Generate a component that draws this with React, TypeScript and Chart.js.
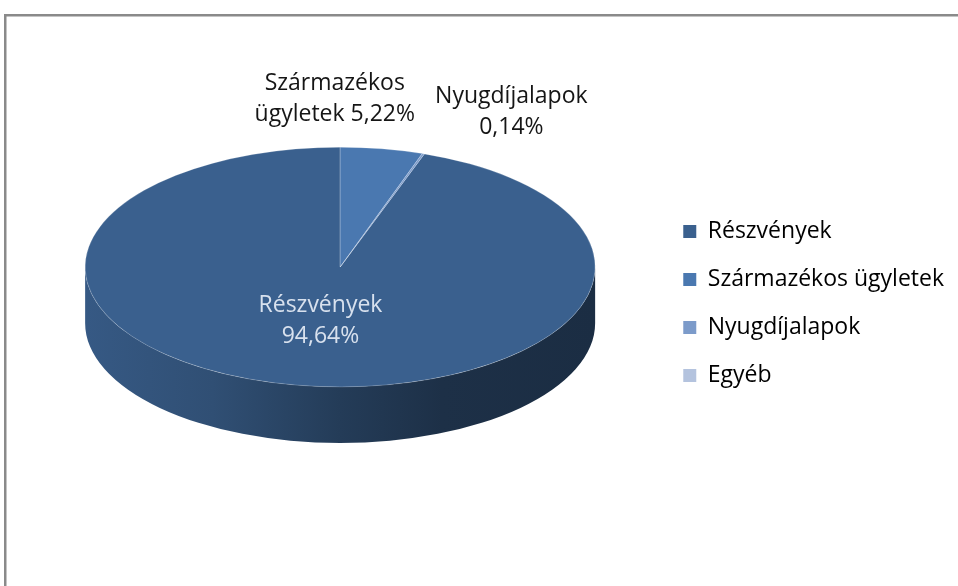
import { useEffect, useRef } from "react";
import { Chart, registerables } from "chart.js";

Chart.register(...registerables);

// ---- data ----
const categories = ["Részvények", "Származékos ügyletek", "Nyugdíjalapok", "Egyéb"];
const shares = [94.64, 5.22, 0.14, 0];
const sliceColors = ["#3A608E", "#4A78B0", "#7C9BCA", "#B4C3DE"];
// number of category words kept on the first line of each data label
const labelFirstLineWords = [1, 1, 1, 1];
const showDataLabel = [true, true, true, false];

// ---- style / layout ----
const FONT = "'Open Sans', 'Noto Sans', sans-serif";
const FONT_SIZE = 23;
const TILT = 0.47; // vertical squash of the top face
const DEPTH = 0.22; // side wall height relative to radius
const LIFT = 0.65; // how far the top face is lifted above the chart-area centre (in depths)
const LABEL_LINE = 31;
// label placement: inside labels use distance (fraction of radius), outside ones an offset from the rim point
const labelPlacement: Array<{ inside?: number; dx?: number; dy?: number }> = [
  { inside: 0.46 },
  { dx: -47, dy: -50 },
  { dx: 88, dy: -42 },
  {},
];

const pct = (v: number) => v.toFixed(2).replace(".", ",") + "%";

function labelLines(i: number): string[] {
  const words = categories[i].split(" ");
  const n = labelFirstLineWords[i];
  const first = words.slice(0, n).join(" ");
  const rest = words.slice(n);
  rest.push(pct(shares[i]));
  return [first, rest.join(" ")];
}

function shade(hex: string, f: number) {
  const n = parseInt(hex.slice(1), 16);
  const r = Math.round(((n >> 16) & 255) * f);
  const g = Math.round(((n >> 8) & 255) * f);
  const b = Math.round((n & 255) * f);
  return `rgb(${r},${g},${b})`;
}

const pie3d = {
  id: "pie3d",
  beforeDraw(chart: any) {
    const ctx = chart.ctx;
    ctx.save();
    ctx.strokeStyle = "#8a8a8a";
    ctx.lineWidth = 2.5;
    ctx.strokeRect(5.25, 15.25, 2000, 2000);
    ctx.restore();
  },
  beforeDatasetsDraw(chart: any) {
    const ctx = chart.ctx;
    const arcs = chart.getDatasetMeta(0).data as any[];
    if (!arcs.length) return;
    const { x: cx, y: cy, outerRadius: R } = arcs[0];
    const ry = R * TILT;
    const depth = R * DEPTH;
    const fy = cy - depth * LIFT;
    arcs.forEach((arc: any, i: number) => {
      const s = arc.startAngle;
      const e = arc.endAngle;
      for (const k of [-1, 0, 1]) {
        const lo = Math.max(s, 2 * Math.PI * k);
        const hi = Math.min(e, 2 * Math.PI * k + Math.PI);
        if (hi <= lo) continue;
        const g = ctx.createLinearGradient(cx - R, 0, cx + R, 0);
        const col = sliceColors[i];
        g.addColorStop(0, shade(col, 0.93));
        g.addColorStop(0.25, shade(col, 0.82));
        g.addColorStop(0.5, shade(col, 0.62));
        g.addColorStop(0.7, shade(col, 0.5));
        g.addColorStop(1, shade(col, 0.47));
        ctx.beginPath();
        ctx.ellipse(cx, fy, R, ry, 0, lo, hi, false);
        ctx.ellipse(cx, fy + depth, R, ry, 0, hi, lo, true);
        ctx.closePath();
        ctx.fillStyle = g;
        ctx.fill();
      }
    });
    ctx.save();
    ctx.translate(cx, fy);
    ctx.scale(1, TILT);
    ctx.translate(-cx, -cy);
  },
  afterDatasetsDraw(chart: any) {
    const ctx = chart.ctx;
    ctx.restore();
    const arcs = chart.getDatasetMeta(0).data as any[];
    if (!arcs.length) return;
    const { x: cx, y: cy, outerRadius: R } = arcs[0];
    const ry = R * TILT;
    const fy = cy - R * DEPTH * LIFT;
    ctx.save();
    ctx.font = `${FONT_SIZE}px ${FONT}`;
    ctx.textAlign = "center";
    ctx.textBaseline = "middle";
    arcs.forEach((arc: any, i: number) => {
      if (!showDataLabel[i]) return;
      const m = (arc.startAngle + arc.endAngle) / 2;
      const p = labelPlacement[i];
      let x: number, y: number;
      if (p.inside !== undefined) {
        x = cx + R * p.inside * Math.cos(m);
        y = fy + ry * p.inside * Math.sin(m);
        ctx.fillStyle = "#D8E1EE";
      } else {
        x = cx + R * Math.cos(m) + (p.dx || 0);
        y = fy + ry * Math.sin(m) + (p.dy || 0);
        ctx.fillStyle = "#151515";
      }
      const lines = labelLines(i);
      lines.forEach((t, j) => {
        ctx.fillText(t, x, y + (j - (lines.length - 1) / 2) * LABEL_LINE);
      });
    });
    ctx.restore();
  },
};

export default function App() {
  const ref = useRef<HTMLCanvasElement | null>(null);
  useEffect(() => {
    if (!ref.current) return;
    const total = shares.reduce((a, b) => a + b, 0);
    const chart = new Chart(ref.current, {
      type: "pie",
      data: {
        labels: categories,
        datasets: [
          {
            data: shares,
            backgroundColor: sliceColors,
            borderColor: "rgba(255,255,255,0.35)",
            borderWidth: 0.8,
            radius: 255,
            clip: false,
          } as any,
        ],
      },
      options: {
        responsive: false,
        animation: false,
        rotation: 360 * (1 - shares[0] / total),
        layout: { padding: { left: 22, right: 4, top: 21, bottom: 0 } },
        plugins: {
          tooltip: { enabled: false },
          legend: {
            position: "right",
            align: "center",
            labels: {
              boxWidth: 13,
              boxHeight: 13,
              padding: 25,
              color: "#000",
              font: { family: FONT, size: FONT_SIZE },
              generateLabels: (c: any) =>
                (Chart as any).overrides.pie.plugins.legend.labels
                  .generateLabels(c)
                  .map((l: any) => ({ ...l, lineWidth: 0, strokeStyle: "transparent" })),
            },
          },
        },
      } as any,
      plugins: [pie3d as any],
    });
    return () => chart.destroy();
  }, []);
  return (
    <div style={{ position: "fixed", left: 0, top: 0, width: 958, height: 586, background: "#fff" }}>
      <canvas ref={ref} width={958} height={586} style={{ display: "block" }} />
    </div>
  );
}
